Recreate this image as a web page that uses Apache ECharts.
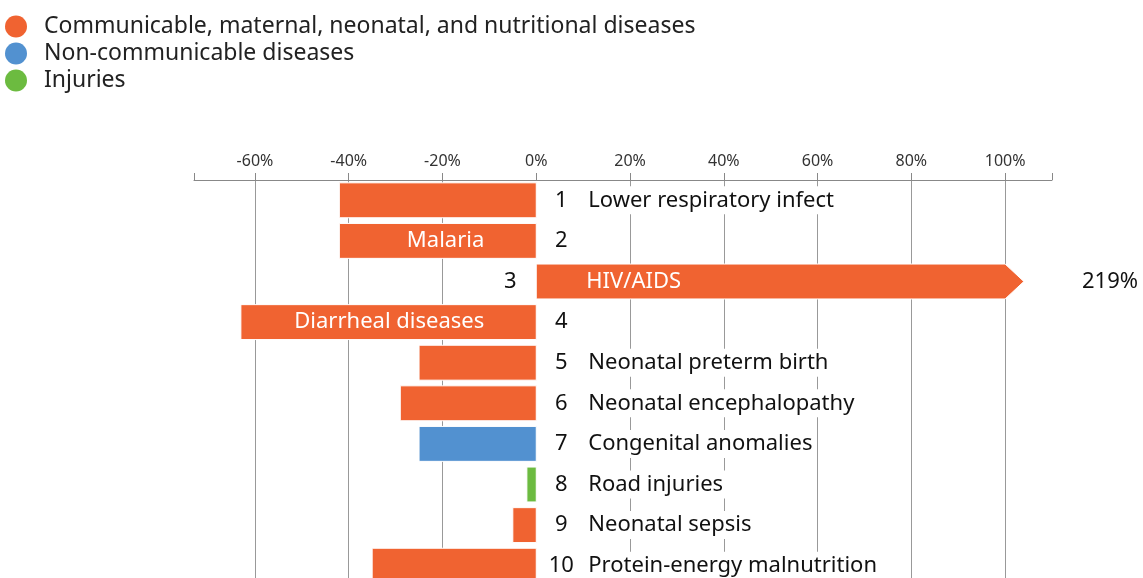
<!DOCTYPE html>
<html>
<head>
<meta charset="utf-8">
<script src="https://cdn.jsdelivr.net/npm/echarts@6/dist/echarts.min.js"></script>
<style>
  html, body { margin: 0; padding: 0; background: #fff; }
  #chart { width: 1143px; height: 578px; }
</style>
</head>
<body>
<div id="chart"></div>
<script>
// causes of death, ranked, with percent change
const causes = ['Lower respiratory infect', 'Malaria', 'HIV/AIDS', 'Diarrheal diseases',
  'Neonatal preterm birth', 'Neonatal encephalopathy', 'Congenital anomalies',
  'Road injuries', 'Neonatal sepsis', 'Protein-energy malnutrition']
const ranks = [1, 2, 3, 4, 5, 6, 7, 8, 9, 10]
const changes = [-42, -42, 219, -63, -25, -29, -25, -2, -5, -35]
const groupOf = [0, 0, 0, 0, 0, 0, 1, 2, 0, 0]
const nameInside = [false, true, true, true, false, false, false, false, false, false]

const groupNames = ['Communicable, maternal, neonatal, and nutritional diseases',
  'Non-communicable diseases', 'Injuries']
const groupColors = ['#F06331', '#5291D0', '#6CBB40']

const tickValues = [-60, -40, -20, 0, 20, 40, 60, 80, 100]
const gridValues = [-60, -40, -20, 20, 40, 60, 80, 100]
const axisMin = -73
const axisMax = 110
const barCap = 100
const arrowTip = 104

const FONT = '"Noto Sans", Lato, sans-serif'

function renderBar (params, api) {
  const v = api.value(0)
  const row = api.value(1)
  const rank = api.value(2)
  const name = api.value(3)
  const inside = api.value(4) === 1
  const color = api.visual('color')
  const zero = api.coord([0, row])
  const band = api.size([0, 1])[1]
  const h = band * 0.86
  const top = zero[1] - h / 2
  const children = []

  if (v > barCap) {
    const capX = api.coord([barCap, row])[0]
    const tipX = api.coord([arrowTip, row])[0]
    children.push({
      type: 'polygon',
      shape: { points: [[zero[0], top], [capX, top], [tipX, zero[1]], [capX, top + h], [zero[0], top + h]] },
      style: { fill: color, stroke: '#fff', lineWidth: 1 }
    })
    children.push({
      type: 'text',
      style: {
        text: v + '%', x: api.coord([axisMax, row])[0] + 30, y: zero[1],
        fill: '#111', font: '22px ' + FONT, align: 'left', verticalAlign: 'middle'
      }
    })
  } else {
    const end = api.coord([v, row])
    children.push({
      type: 'rect',
      shape: { x: Math.min(end[0], zero[0]), y: top, width: Math.abs(zero[0] - end[0]), height: h },
      style: { fill: color, stroke: '#fff', lineWidth: 1 }
    })
  }

  // rank number
  children.push({
    type: 'text',
    style: {
      text: String(rank), x: v < 0 ? zero[0] + 25 : zero[0] - 26, y: zero[1],
      fill: '#111', font: '22px ' + FONT, align: 'center', verticalAlign: 'middle',
      backgroundColor: v < 0 ? '#fff' : null, padding: [3, 3]
    }
  })

  // cause name
  if (v > 0) {
    children.push({
      type: 'text',
      style: {
        text: name, x: zero[0] + 50, y: zero[1],
        fill: '#fff', font: '22px ' + FONT, align: 'left', verticalAlign: 'middle'
      }
    })
  } else if (inside) {
    children.push({
      type: 'text',
      style: {
        text: name, x: zero[0] - 52, y: zero[1],
        fill: '#fff', font: '22px ' + FONT, align: 'right', verticalAlign: 'middle'
      }
    })
  } else {
    children.push({
      type: 'text',
      style: {
        text: name, x: zero[0] + 50, y: zero[1],
        fill: '#111', font: '22px ' + FONT, align: 'left', verticalAlign: 'middle',
        backgroundColor: '#fff', padding: [3, 2]
      }
    })
  }
  return { type: 'group', children: children }
}

const series = groupNames.map((g, gi) => {
  const data = []
  causes.forEach((c, i) => {
    if (groupOf[i] === gi) data.push([changes[i], i, ranks[i], c, nameInside[i] ? 1 : 0])
  })
  return {
    name: g,
    type: 'custom',
    itemStyle: { color: groupColors[gi] },
    encode: { x: 0, y: 1 },
    clip: false,
    renderItem: renderBar,
    data: data
  }
})

const myChart = echarts.init(document.getElementById('chart'))
myChart.setOption({
  animation: false,
  legend: {
    orient: 'vertical',
    left: 0,
    top: 10,
    icon: 'circle',
    itemWidth: 40,
    itemHeight: 22,
    itemGap: 4,
    textStyle: { fontSize: 23, lineHeight: 23, color: '#222', fontFamily: FONT, padding: [0, 0, 0, 3] },
    data: groupNames
  },
  grid: {
    left: 194,
    right: 91,
    top: 180,
    height: 406,
    outerBoundsMode: 'none'
  },
  xAxis: [{
    type: 'value',
    position: 'top',
    min: axisMin,
    max: axisMax,
    axisLine: { show: true, lineStyle: { color: '#888', width: 1 } },
    axisTick: { show: true, length: 7, lineStyle: { color: '#888' }, customValues: [axisMin].concat(tickValues, [axisMax]) },
    axisLabel: { customValues: tickValues, formatter: '{value}%', fontSize: 16, color: '#333', fontFamily: FONT, margin: 11 },
    splitLine: { show: false }
  }, {
    type: 'value',
    position: 'top',
    min: axisMin,
    max: axisMax,
    axisLine: { show: false },
    axisTick: { show: false, customValues: gridValues },
    axisLabel: { show: false, customValues: gridValues },
    splitLine: { show: true, lineStyle: { color: '#999', width: 1 } }
  }],
  yAxis: {
    type: 'category',
    data: causes,
    inverse: true,
    show: false
  },
  series: series
})
</script>
</body>
</html>
